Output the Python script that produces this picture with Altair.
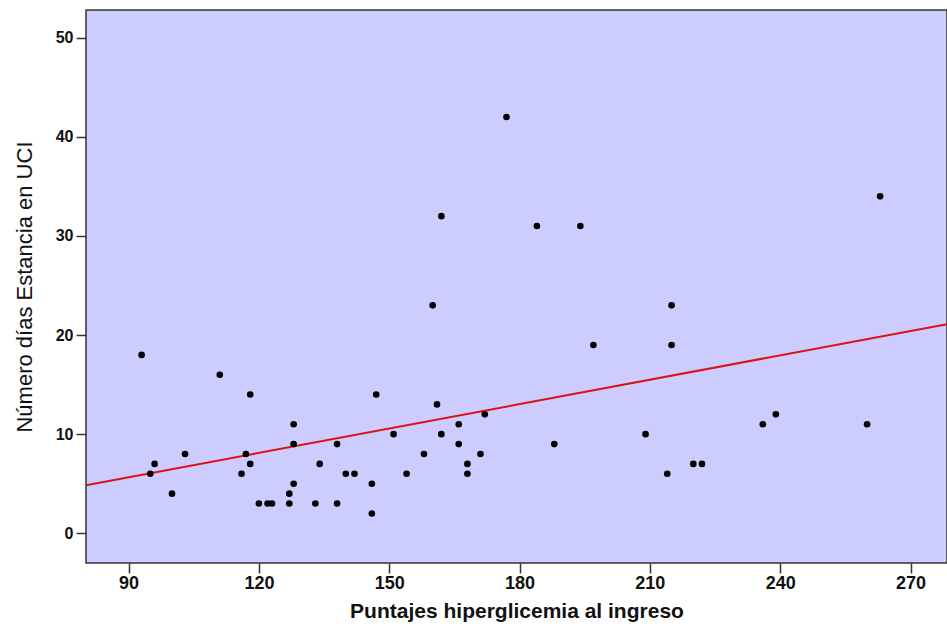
import altair as alt
import pandas as pd

glucemia = [93, 95, 96, 100, 103, 111, 116, 117, 118, 118, 120, 122, 123, 127, 127,
            128, 128, 128, 133, 134, 138, 138, 140, 142, 146, 146, 147, 151, 154, 158,
            160, 161, 162, 162, 166, 166, 168, 168, 171, 172, 177, 184, 188, 194, 197,
            209, 214, 215, 215, 220, 222, 236, 239, 260, 263]
dias_uci = [18, 6, 7, 4, 8, 16, 6, 8, 7, 14, 3, 3, 3, 3, 4,
            11, 9, 5, 3, 7, 9, 3, 6, 6, 5, 2, 14, 10, 6, 8,
            23, 13, 10, 32, 11, 9, 7, 6, 8, 12, 42, 31, 9, 31, 19,
            10, 6, 23, 19, 7, 7, 11, 12, 11, 34]
x_ticks = [90, 120, 150, 180, 210, 240, 270]
y_ticks = [0, 10, 20, 30, 40, 50]

df = pd.DataFrame({"x": glucemia, "y": dias_uci})

FONT = "Liberation Sans, Arial, sans-serif"

x_scale = alt.Scale(domain=[80.2, 278.4], nice=False, zero=False)
y_scale = alt.Scale(domain=[-3.0, 52.8], nice=False, zero=False)

x_enc = alt.X("x:Q", scale=x_scale,
              axis=alt.Axis(title="Puntajes hiperglicemia al ingreso", values=x_ticks,
                            grid=False, tickSize=10, tickWidth=1.5, tickColor="#333333",
                            domain=False,
                            labelFont=FONT, labelFontWeight="bold",
                            labelFontSize=18, labelColor="#111111", labelPadding=1,
                            titleFont=FONT, titleFontWeight="bold",
                            titleFontSize=21, titleColor="#111111", titlePadding=8))
y_enc = alt.Y("y:Q", scale=y_scale,
              axis=alt.Axis(title="Número días Estancia en UCI", values=y_ticks,
                            grid=False, tickSize=10, tickWidth=1.5, tickColor="#333333",
                            domain=False,
                            labelFont=FONT, labelFontWeight="bold",
                            labelFontSize=16, labelColor="#111111", labelPadding=3,
                            titleFont=FONT, titleFontWeight="normal",
                            titleFontSize=22, titleColor="#111111", titlePadding=19))

points = alt.Chart(df).mark_point(filled=True, color="black", size=44, opacity=1,
                                  shape="circle").encode(x=x_enc, y=y_enc)

line = alt.Chart(df).transform_regression(
    "x", "y", extent=[80.2, 278.4]
).mark_line(color="#DD1111", strokeWidth=2, clip=True).encode(
    x=alt.X("x:Q", scale=x_scale), y=alt.Y("y:Q", scale=y_scale))

chart = alt.layer(line, points).properties(
    width=861, height=553,
    autosize=alt.AutoSizeParams(type="none"),
    padding={"left": 86, "top": 10, "right": 0, "bottom": 61},
    background="white",
).configure_view(fill="#CCCCFF", stroke="#333333", strokeWidth=1.5)

chart.save("out.html", embed_options={"renderer": "svg", "actions": False})
